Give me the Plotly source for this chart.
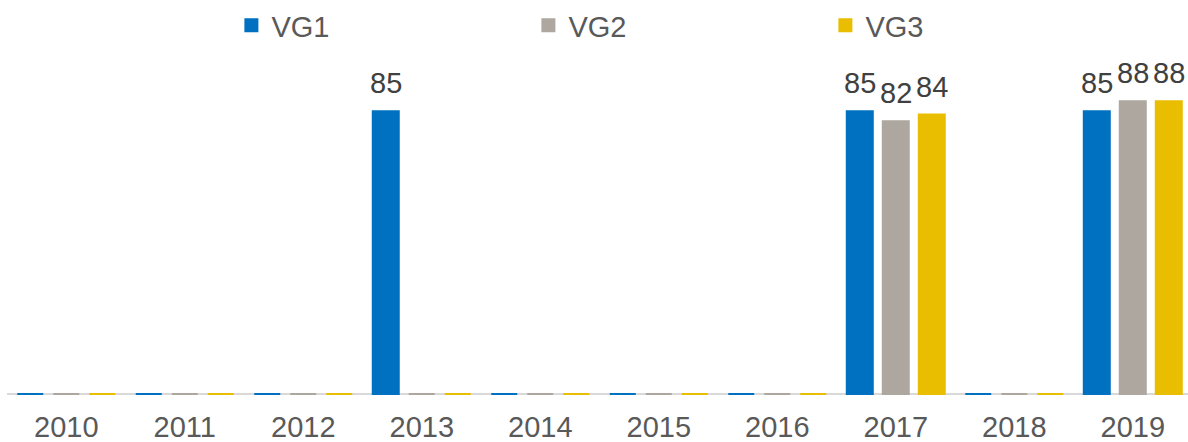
import plotly.graph_objects as go

years = ["2010", "2011", "2012", "2013", "2014", "2015", "2016", "2017", "2018", "2019"]
vg1 = [0, 0, 0, 85, 0, 0, 0, 85, 0, 85]
vg2 = [0, 0, 0, 0, 0, 0, 0, 82, 0, 88]
vg3 = [0, 0, 0, 0, 0, 0, 0, 84, 0, 88]

series = [("VG1", vg1, "#0070C0"), ("VG2", vg2, "#AEA79F"), ("VG3", vg3, "#E9BD00")]

fig = go.Figure()
annotations = []
for i, (name, vals, color) in enumerate(series):
    fig.add_trace(go.Bar(
        x=years,
        y=vals,
        name=name,
        marker=dict(color=color, line=dict(color=color, width=2)),
    ))
    # value labels above the non-zero bars
    for j, v in enumerate(vals):
        if v:
            annotations.append(dict(
                x=j, y=v, xref="x", yref="y", text=str(v),
                xshift=(i - 1) * 36, yshift=10,
                yanchor="bottom", showarrow=False,
                font=dict(size=29, color="#404040"),
            ))

fig.update_layout(
    width=1188,
    height=442,
    margin=dict(l=7, r=0, t=50, b=44),
    plot_bgcolor="white",
    paper_bgcolor="white",
    font=dict(family="Liberation Sans, Arial, sans-serif", size=29, color="#595959"),
    barmode="group",
    bargap=0.0886,
    bargroupgap=0.278,
    annotations=annotations,
    legend=dict(
        orientation="h",
        x=0.19, xanchor="left",
        y=1.0835, yanchor="middle",
        entrywidth=252,
        font=dict(size=29, color="#595959"),
    ),
    showlegend=True,
)
fig.update_xaxes(
    range=[-0.5, 9.466],
    automargin=False,
    showline=False,
    showgrid=False,
    ticks="",
    ticklabelstandoff=9,
    tickfont=dict(size=29, color="#595959"),
)
fig.update_yaxes(
    range=[-1.2, 102.2],
    automargin=False,
    showticklabels=False,
    showgrid=False,
    zeroline=True,
    zerolinecolor="#D9D9D9",
    zerolinewidth=2,
)

fig.write_html("out.html", config={"displayModeBar": False},
               post_script="document.body.style.margin='0';")
